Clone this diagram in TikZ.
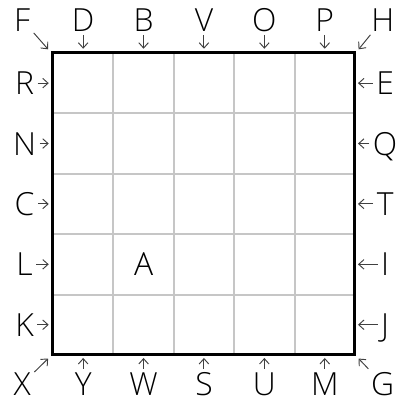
\documentclass[tikz,border=0pt]{standalone}
\usepackage{fontspec}
\setmainfont{Open Sans Light}
\usetikzlibrary{arrows.meta}

\begin{document}
\begin{tikzpicture}[>={Straight Barb[length=2.5pt,width=4.5pt]},
  every node/.style={font=\fontsize{15}{15}\selectfont,inner sep=1.5pt,text height=10.8pt,text depth=0pt}]
\tikzstyle{cellline}=[draw=gray!45,line width=0.95pt]
\tikzstyle{pointer}=[->,draw=black!75,line width=0.45pt]
\useasboundingbox (-0.877,-0.779) rectangle (5.762,5.877);
% board
\draw[cellline] (0,0) grid (5,5);
\draw[line width=1.4pt] (0,0) rectangle (5,5);
\node (cA) at (1.5,1.5) {A};
% column labels
\foreach \l [count=\i] in {D,B,V,O,P} {
  \node (t\l) at (\i-0.5,5.55) {\l};
  \coordinate (e\l) at (\i-0.5,5.07);
  \draw[pointer] (t\l) -- (e\l);
}
\foreach \l [count=\i] in {Y,W,S,U,M} {
  \node (b\l) at (\i-0.5,-0.48) {\l};
  \coordinate (e\l) at (\i-0.5,-0.05);
  \draw[pointer] (b\l) -- (e\l);
}
% row labels
\foreach \l [count=\i] in {R,N,C,L,K} {
  \node (l\l) at (-0.47,5.5-\i) {\l};
  \coordinate (e\l) at (-0.07,5.5-\i);
  \draw[pointer] (l\l) -- (e\l);
}
\foreach \l [count=\i] in {E,Q,T,I,J} {
  \node (r\l) at (5.5,5.5-\i) {\l};
  \coordinate (e\l) at (5.05,5.5-\i);
  \draw[pointer] (r\l) -- (e\l);
}
% corners
\node (cF) at (-0.51,5.55) {F};
\node (cH) at (5.46,5.55) {H};
\node (cX) at (-0.51,-0.48) {X};
\node (cG) at (5.46,-0.48) {G};
\coordinate (eF) at (-0.08,5.06);
\coordinate (eH) at (5.06,5.06);
\coordinate (eX) at (-0.08,-0.06);
\coordinate (eG) at (5.06,-0.06);
\foreach \c in {F,H,X,G}
  \draw[pointer] (c\c) -- (e\c);
\end{tikzpicture}
\end{document}
